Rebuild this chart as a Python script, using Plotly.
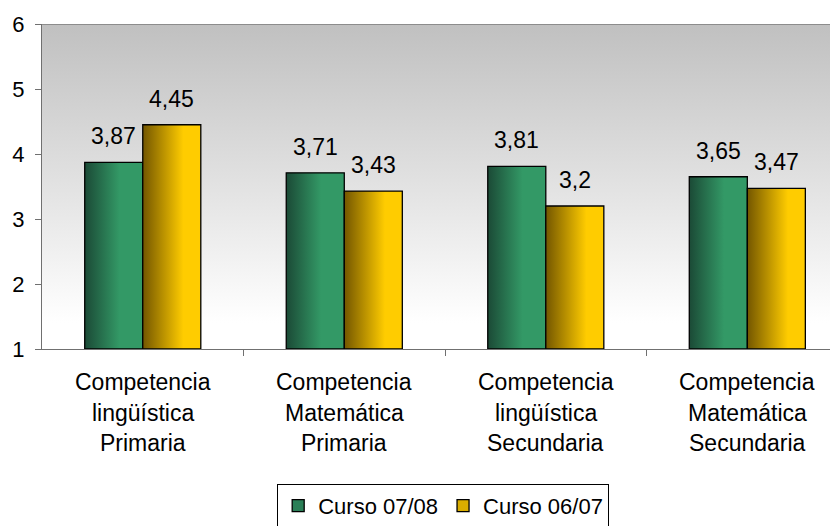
import plotly.graph_objects as go

categories = [
    "Competencia<br>lingüística<br>Primaria",
    "Competencia<br>Matemática<br>Primaria",
    "Competencia<br>lingüística<br>Secundaria",
    "Competencia<br>Matemática<br>Secundaria",
]
series_names = ["Curso 07/08", "Curso 06/07"]
curso_0708 = [3.87, 3.71, 3.81, 3.65]
curso_0607 = [4.45, 3.43, 3.2, 3.47]
y_ticks = [1, 2, 3, 4, 5, 6]

FONT = "Liberation Sans, Arial, sans-serif"
BAR_W = 0.288
Y_MIN, Y_MAX = 1, 6
X_RANGE = [-0.5, 3.45]

green_scale = [[0, "#1b4a36"], [0.6, "#339966"], [1, "#339966"]]
yellow_scale = [[0, "#735600"], [0.7, "#ffcc00"], [1, "#ffcc00"]]
legend_colors = ["#2a7f57", "#d9ad00"]

fig = go.Figure()

# plot-area vertical gradient background
fig.add_trace(go.Scatter(
    x=[X_RANGE[0], X_RANGE[0], X_RANGE[1] + 1, X_RANGE[1] + 1, X_RANGE[0]],
    y=[Y_MIN, Y_MAX, Y_MAX, Y_MIN, Y_MIN],
    fill="toself", mode="lines", line=dict(width=0),
    fillgradient=dict(type="vertical",
                      colorscale=[[0, "#ffffff"], [0.08, "#ffffff"], [1, "#c0c0c0"]]),
    hoverinfo="skip", showlegend=False,
))

series = [(series_names[0], curso_0708, green_scale, -BAR_W),
          (series_names[1], curso_0607, yellow_scale, 0.0)]

for name, vals, scale, off in series:
    for i, v in enumerate(vals):
        x0 = i + off
        x1 = x0 + BAR_W
        fig.add_trace(go.Scatter(
            x=[x0, x0, x1, x1, x0],
            y=[Y_MIN, v, v, Y_MIN, Y_MIN],
            fill="toself", mode="lines",
            line=dict(color="#000000", width=1.3),
            fillgradient=dict(type="horizontal", colorscale=scale),
            name=name, showlegend=False,
            hoverinfo="skip",
        ))
        fig.add_annotation(
            x=x0 + BAR_W / 2, y=v, xref="x", yref="y",
            text=f"{v:g}".replace(".", ","),
            showarrow=False, yanchor="bottom", yshift=11,
            font=dict(family=FONT, size=23, color="#000000"),
        )

# legend entries (square swatches)
for name, col in zip(series_names, legend_colors):
    fig.add_trace(go.Bar(
        x=[None], y=[None], name=name,
        marker=dict(color=col, line=dict(color="#000000", width=1.3)),
        showlegend=True, hoverinfo="skip",
    ))

# category labels, one annotation per line
for i, cat in enumerate(categories):
    for j, line in enumerate(cat.split("<br>")):
        fig.add_annotation(
            x=i, y=0, xref="x", yref="paper",
            text=line, showarrow=False, yanchor="middle",
            yshift=-33 - 30.5 * j,
            font=dict(family=FONT, size=23, color="#000000"),
        )

# top border of plot area
fig.add_shape(type="line", xref="paper", yref="y", x0=0, x1=1, y0=Y_MAX, y1=Y_MAX,
              line=dict(color="#8c8c8c", width=2))

# the page body has an 8px margin; size the figure to fill the window exactly
fig.update_layout(
    width=830, height=518,
    margin=dict(l=34, r=0, t=16, b=177, autoexpand=False),
    paper_bgcolor="#ffffff", plot_bgcolor="#ffffff",
    font=dict(family=FONT, size=20, color="#000000"),
    showlegend=True,
    legend=dict(
        orientation="h", x=0.504, xanchor="center", y=-0.415, yanchor="top",
        bordercolor="#000000", borderwidth=1, bgcolor="#ffffff",
        font=dict(family=FONT, size=22, color="#000000"),
        itemwidth=30,
    ),
    xaxis=dict(
        range=X_RANGE, showgrid=False, zeroline=False, automargin=False,
        tickvals=[0.5, 1.5, 2.5, 3.5], ticks="outside", ticklen=6,
        tickcolor="#707070", showticklabels=False,
        showline=True, linecolor="#707070", linewidth=1.3,
    ),
    yaxis=dict(
        range=[Y_MIN, Y_MAX], tickvals=y_ticks, showgrid=False, zeroline=False,
        automargin=False,
        ticks="outside", ticklen=6, tickcolor="#707070",
        showline=True, linecolor="#707070", linewidth=1.3,
        tickfont=dict(family=FONT, size=22, color="#000000"),
        ticklabelstandoff=6,
    ),
)

fig.write_html("out.html")
